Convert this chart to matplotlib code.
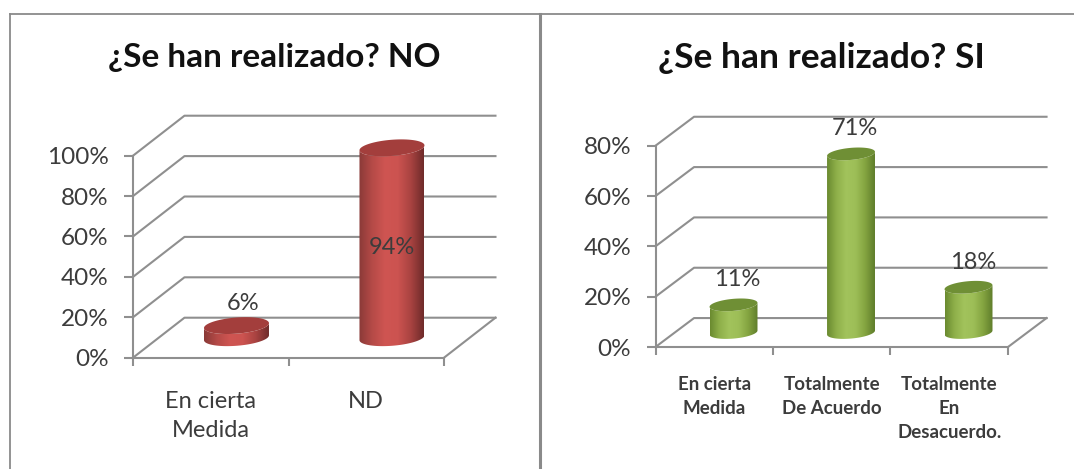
"""
Two 3D-look cylinder charts side by side
"""
import numpy as np
import matplotlib
matplotlib.use("Agg")
import matplotlib.pyplot as plt
from matplotlib.colors import LinearSegmentedColormap
from matplotlib.lines import Line2D
from matplotlib.patches import Polygon

W, H = 1074, 469

title_no = "¿Se han realizado? NO"
categories_no = ["En cierta\nMedida", "ND"]
values_no = [6, 94]
ticks_no = [0, 20, 40, 60, 80, 100]

title_si = "¿Se han realizado? SI"
categories_si = ["En cierta\nMedida", "Totalmente\nDe Acuerdo", "Totalmente\nEn\nDesacuerdo."]
values_si = [11, 71, 18]
ticks_si = [0, 20, 40, 60, 80]

GRID = "#8f8f8f"
TEXT = "#3c3c3c"

plt.rcParams["font.family"] = ["Lato", "DejaVu Sans"]


def add_axes_px(fig, left, right, top, bottom):
    return fig.add_axes([left / W, 1 - bottom / H, (right - left) / W, (bottom - top) / H])


def ellipse(cx, cy, rx, ry, tilt, t):
    return np.column_stack([cx + rx * np.cos(t), cy + ry * np.sin(t) + tilt * np.cos(t)])


def draw_cylinder(ax, cx, base, value, rx, ry, tilt, side_colors, top_color):
    """畫一根圓柱 (側面漸層 + 頂面)"""
    top = base + value
    front = np.linspace(np.pi, 2 * np.pi, 60)
    outline = np.vstack([ellipse(cx, base, rx, ry, tilt, front),
                         ellipse(cx, top, rx, ry, tilt, front[::-1])])
    clip = Polygon(outline, closed=True, transform=ax.transData, facecolor="none", edgecolor="none")
    ax.add_patch(clip)

    cmap = LinearSegmentedColormap.from_list("side", side_colors)
    grad = np.linspace(0, 1, 128)[None, :]
    im = ax.imshow(grad, cmap=cmap, aspect="auto", zorder=3,
                   extent=[cx - rx, cx + rx, base - ry - tilt, top + ry + tilt])
    im.set_clip_path(clip)
    # 圓柱可能超出座標軸範圍，不能被 axes 裁掉
    im.set_clip_box(ax.figure.bbox)

    all_round = np.linspace(0, 2 * np.pi, 90)
    ax.add_patch(Polygon(ellipse(cx, top, rx, ry, tilt, all_round), closed=True,
                         facecolor=top_color, edgecolor="none", zorder=4, clip_on=False))


def draw_panel(ax, categories, values, ticks, depth_x, depth_y, rx, ry, tilt,
               side_colors, top_color, cat_size, cat_weight, cat_pad, cat_spacing):
    n = len(categories)
    ymax = ticks[-1]

    # 側牆和後牆的格線
    for v in ticks:
        ax.plot([0, depth_x, n + depth_x], [v, v + depth_y, v + depth_y],
                color=GRID, lw=1.5, clip_on=False, zorder=1)
    ax.plot([n, n + depth_x], [0, depth_y], color=GRID, lw=1.5, clip_on=False, zorder=1)

    for i, v in enumerate(values):
        draw_cylinder(ax, i + 0.5 + depth_x / 2, depth_y / 2, v, rx, ry, tilt, side_colors, top_color)

    ax.set_xlim(0, n)
    ax.set_ylim(0, ymax)
    ax.patch.set_visible(False)
    for side in ["top", "right"]:
        ax.spines[side].set_visible(False)
    for side in ["left", "bottom"]:
        ax.spines[side].set_color(GRID)
        ax.spines[side].set_linewidth(1.5)

    ax.set_yticks(ticks, [f"{v}%" for v in ticks])
    ax.set_xticks(np.arange(n + 1), [""] * (n + 1))
    ax.set_xticks(np.arange(n) + 0.5, categories, minor=True)
    ax.tick_params(axis="y", length=6.5, width=1.5, color=GRID, labelsize=17.5,
                   labelcolor=TEXT, pad=11)
    ax.tick_params(axis="x", which="major", length=6, width=1.5, color=GRID)
    ax.tick_params(axis="x", which="minor", length=0, pad=cat_pad, labelsize=cat_size, labelcolor=TEXT)
    for label in ax.get_xticklabels(minor=True):
        label.set_fontweight(cat_weight)
        label.set_linespacing(cat_spacing)


fig = plt.figure(figsize=(W / 100, H / 100), dpi=100)
fig.patch.set_facecolor("white")

# 外框
frame = [([10, 1074], [14, 14], 1.3), ([10, 10], [14, 469], 1.3), ([540, 540], [14, 469], 2.2)]
for xs, ys, lw in frame:
    fig.add_artist(Line2D([x / W for x in xs], [1 - y / H for y in ys], color="#8a8a8a", lw=lw))

fig.text(274 / W, 1 - 58 / H, title_no, ha="center", va="center", fontsize=24,
         fontweight="bold", color="#111111")
fig.text(821 / W, 1 - 58 / H, title_si, ha="center", va="center", fontsize=25.5,
         fontweight="bold", color="#111111")

red_side = ["#8a3a38", "#b54a47", "#cf5552", "#cc5350", "#a94341", "#6f2b2a"]
green_side = ["#6a8a30", "#8fb04a", "#a2c35c", "#9dbe57", "#84a440", "#5f7d2b"]

ax_no = add_axes_px(fig, 133, 444, 155.7, 357.7)
draw_panel(ax_no, categories_no, values_no, ticks_no, 0.331, 19.8, 0.209, 4.0, 1.2,
           red_side, "#a33e3c", 17, "normal", 24, 1.45)
ax_no.annotate(f"{values_no[0]}%", (0.5 + 0.331 / 2, values_no[0] + 9.9), xytext=(5, 16),
               textcoords="offset points", ha="center", va="center", fontsize=17, color=TEXT)
ax_no.text(1.5 + 0.331 / 2, 54.5, f"{values_no[1]}%", ha="center", va="center", fontsize=17,
           color=TEXT, zorder=6)

ax_si = add_axes_px(fig, 655.5, 1008, 145.7, 347)
draw_panel(ax_si, categories_si, values_si, ticks_si, 0.328, 11.5, 0.204, 2.4, 0.8,
           green_side, "#6f8f35", 13.5, "bold", 21, 1.5)
for i, v in enumerate(values_si):
    ax_si.annotate(f"{v}%", (i + 0.5 + 0.328 / 2, v + 5.75), xytext=(3, 18),
                   textcoords="offset points", ha="center", va="center", fontsize=17,
                   color=TEXT, zorder=6)

fig.savefig("out.png", dpi=100)
